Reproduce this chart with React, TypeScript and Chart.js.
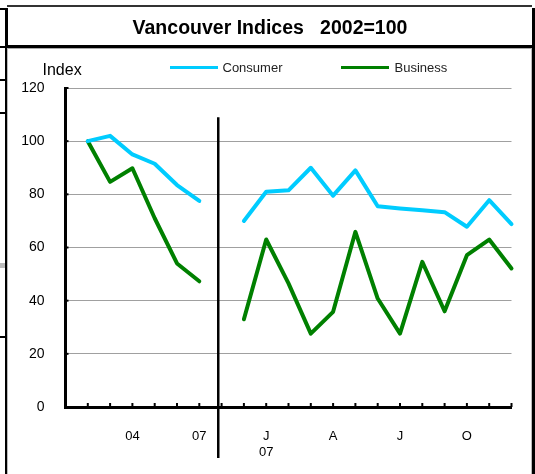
import React, { useEffect, useRef } from "react";
import { Chart, registerables } from "chart.js";

Chart.register(...registerables);

const categories: (string | string[])[] = [
  "", "", "", "04", "", "", "07", "", "", ["J", "07"], "", "", "A", "", "", "J", "", "", "O", "", "",
];
const consumerValues: (number | null)[] = [
  null, 100, 102, 95, 91.5, 83.5, 77.5, null, 70, 81, 81.5, 90, 79.5, 89, 75.5, 74.7, 74, 73.3, 67.8, 77.8, 68.8,
];
const businessValues: (number | null)[] = [
  null, 100, 84.7, 89.8, 71, 54, 47.3, null, 33, 63, 46.5, 27.6, 35.8, 65.9, 40.8, 27.6, 54.6, 36, 57.1, 63, 52.1,
];
const yTicks = { min: 0, max: 120, step: 20 };
const seriesNames = ["Consumer", "Business"];
const titleText = "Vancouver Indices   2002=100";
const yAxisTitle = "Index";
const separatorIndex = 6.85;

const FONT = "'Liberation Sans', Arial, sans-serif";
const CYAN = "#00CCFF";
const GREEN = "#008000";

const decorPlugin = {
  id: "decor",
  afterDatasetsDraw(chart: any) {
    const { ctx, chartArea, scales } = chart;
    const xs = scales.x;
    const ys = scales.y;
    ctx.save();
    ctx.strokeStyle = "#000";
    ctx.lineWidth = 2;
    // x tick marks pointing inward
    for (let i = 0; i < categories.length; i++) {
      const x = xs.getPixelForValue(i);
      ctx.beginPath();
      ctx.moveTo(x, chartArea.bottom);
      ctx.lineTo(x, chartArea.bottom - 4);
      ctx.stroke();
    }
    // y tick marks pointing inward
    for (let v = yTicks.min; v <= yTicks.max; v += yTicks.step) {
      const y = ys.getPixelForValue(v);
      ctx.beginPath();
      ctx.moveTo(chartArea.left, y);
      ctx.lineTo(chartArea.left + 3, y);
      ctx.stroke();
    }
    // vertical separator
    const sx = xs.getPixelForValue(separatorIndex);
    ctx.lineWidth = 2.5;
    ctx.beginPath();
    ctx.moveTo(sx, ys.getPixelForValue(109));
    ctx.lineTo(sx, chartArea.bottom + 51);
    ctx.stroke();
    ctx.restore();
  },
};

function Box(props: { l: number; t: number; w: number; h: number; c?: string }) {
  return (
    <div
      style={{
        position: "absolute",
        left: props.l,
        top: props.t,
        width: props.w,
        height: props.h,
        background: props.c || "#000",
      }}
    />
  );
}

export default function App() {
  const ref = useRef<HTMLCanvasElement | null>(null);

  useEffect(() => {
    if (!ref.current) return;
    const chart = new Chart(ref.current, {
      type: "line",
      data: {
        labels: categories,
        datasets: [
          {
            label: seriesNames[0],
            data: consumerValues,
            borderColor: CYAN,
            backgroundColor: CYAN,
            borderWidth: 4,
            pointRadius: 0,
            tension: 0,
            borderCapStyle: "round",
            borderJoinStyle: "round",
            spanGaps: false,
            clip: false as any,
          },
          {
            label: seriesNames[1],
            data: businessValues,
            borderColor: GREEN,
            backgroundColor: GREEN,
            borderWidth: 4,
            pointRadius: 0,
            tension: 0,
            borderCapStyle: "round",
            borderJoinStyle: "round",
            spanGaps: false,
            clip: false as any,
          },
        ],
      },
      options: {
        responsive: false,
        animation: false,
        devicePixelRatio: 1,
        layout: { padding: { top: 88, right: 23.5, bottom: 0, left: 0 } },
        plugins: {
          legend: { display: false },
          title: { display: false },
          tooltip: { enabled: false },
        },
        scales: {
          x: {
            type: "category",
            offset: false,
            grid: { display: false, drawTicks: false },
            border: { display: true, color: "#000", width: 3 },
            ticks: {
              autoSkip: false,
              maxRotation: 0,
              minRotation: 0,
              padding: 22,
              color: "#000",
              font: { family: FONT, size: 13 },
            },
            afterFit(scale: any) {
              scale.height = 67;
            },
          },
          y: {
            min: yTicks.min,
            max: yTicks.max,
            grid: { color: "#a0a0a0", lineWidth: 1, drawTicks: false },
            border: { display: true, color: "#000", width: 3 },
            ticks: {
              stepSize: yTicks.step,
              padding: 21,
              color: "#000",
              font: { family: FONT, size: 14 },
            },
            afterFit(scale: any) {
              scale.width = 65.5;
            },
          },
        },
      },
      plugins: [decorPlugin],
    });
    return () => chart.destroy();
  }, []);

  const textBase: React.CSSProperties = {
    position: "absolute",
    fontFamily: FONT,
    color: "#000",
    whiteSpace: "pre",
    lineHeight: 1,
  };

  return (
    <div
      style={{
        position: "absolute",
        left: 0,
        top: 0,
        width: 535,
        height: 474,
        background: "#fff",
        overflow: "hidden",
      }}
    >
      {/* frame lines */}
      <Box l={7} t={5} w={525} h={2} c="#333" />
      <Box l={5} t={8} w={3} h={40} />
      <Box l={532} t={8} w={3} h={40} />
      <Box l={5} t={45} w={530} h={2.5} />
      <Box l={7} t={47.5} w={524} h={1} c="#aaa" />
      <Box l={5} t={47} w={2} h={427} />
      <Box l={7} t={48} w={1} h={426} c="#bbb" />
      <Box l={530.5} t={48} w={1.5} h={426} c="#bbb" />
      <Box l={532} t={47} w={3} h={427} />
      <Box l={0} t={7.5} w={5} h={2} />
      <Box l={0} t={46} w={5} h={2} />
      <Box l={0} t={79} w={5} h={2} />
      <Box l={0} t={112} w={5} h={2} />
      <Box l={0} t={263} w={5} h={5} c="#bbb" />
      <Box l={0} t={336} w={5} h={2} />

      <canvas
        ref={ref}
        width={535}
        height={474}
        style={{ position: "absolute", left: 0, top: 0, width: 535, height: 474 }}
      />

      {/* title */}
      <div
        style={{
          ...textBase,
          left: 5,
          width: 530,
          top: 18.3,
          textAlign: "center",
          fontWeight: "bold",
          fontSize: 19.5,
        }}
      >
        {titleText}
      </div>

      {/* axis title */}
      <div style={{ ...textBase, left: 42.5, top: 62.2, fontSize: 16 }}>{yAxisTitle}</div>

      {/* legend */}
      <Box l={169.6} t={65.8} w={48} h={2.8} c={CYAN} />
      <div style={{ ...textBase, left: 222.5, top: 60.5, fontSize: 13, color: "#222" }}>{seriesNames[0]}</div>
      <Box l={340.6} t={65.8} w={48} h={2.8} c={GREEN} />
      <div style={{ ...textBase, left: 394.5, top: 60.5, fontSize: 13, color: "#222" }}>{seriesNames[1]}</div>
    </div>
  );
}
